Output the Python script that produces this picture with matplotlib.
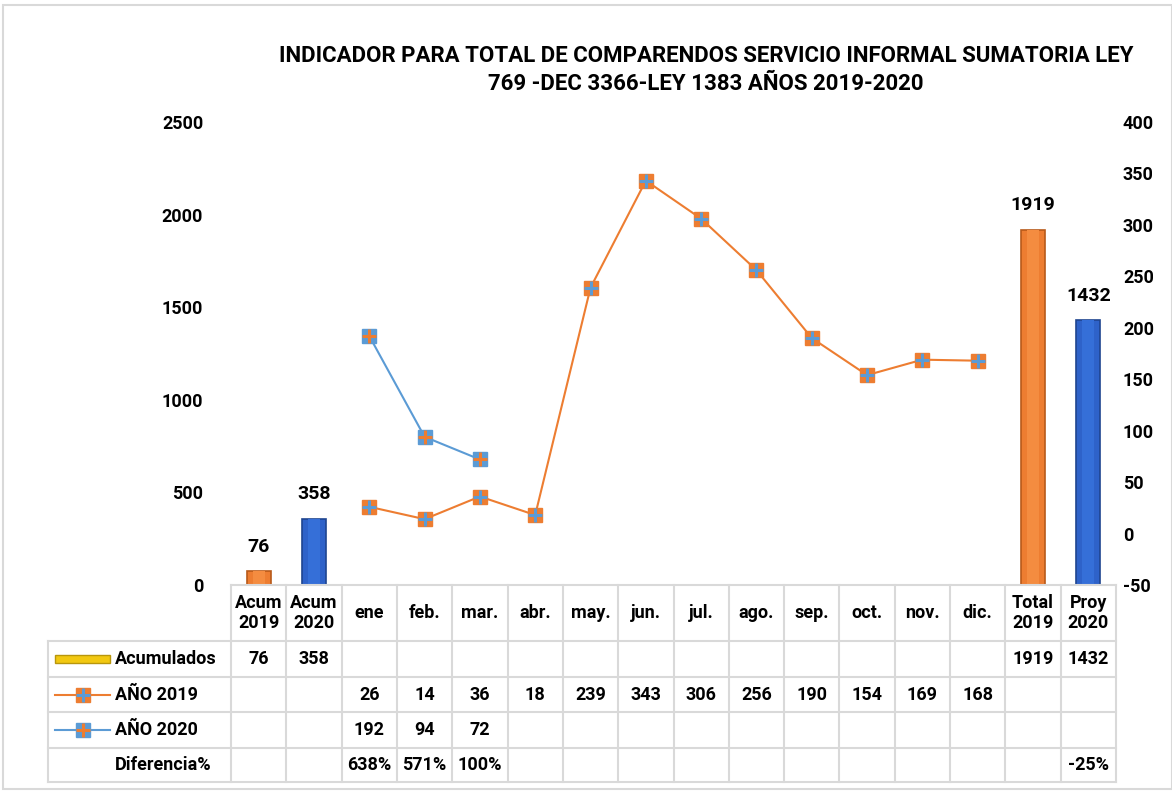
import numpy as np
import matplotlib
matplotlib.use("Agg")
from matplotlib import pyplot as plt
from matplotlib.patches import Rectangle

plt.rcParams['font.family'] = ['Roboto', 'DejaVu Sans']
plt.rcParams['font.weight'] = 'bold'
plt.rcParams['axes.unicode_minus'] = False

# data
categories = ['Acum\n2019', 'Acum\n2020', 'ene', 'feb.', 'mar.', 'abr.', 'may.', 'jun.',
              'jul.', 'ago.', 'sep.', 'oct.', 'nov.', 'dic.', 'Total\n2019', 'Proy\n2020']
bar_idx = [0, 1, 14, 15]
acumulados = [76, 358, 1919, 1432]
anio_2019 = [26, 14, 36, 18, 239, 343, 306, 256, 190, 154, 169, 168]
anio_2020 = [192, 94, 72]
diferencia = {2: '638%', 3: '571%', 4: '100%', 15: '-25%'}

title = 'INDICADOR PARA TOTAL DE COMPARENDOS SERVICIO INFORMAL SUMATORIA LEY\n769 -DEC 3366-LEY 1383 AÑOS 2019-2020'

ORANGE = '#ED7D31'
BLUE = '#5B9BD5'
DBLUE = '#2E62C9'
GRID = '#d9d9d9'

W, H = 1172, 791
fig = plt.figure(figsize=(W / 100, H / 100), dpi=100)

def fx(px):
    return px / W

def fy(py):
    return 1 - py / H

# outer frame
fig.patches.append(Rectangle((fx(3), fy(789)), fx(1172 - 3), (786 - 2) / H,
                             transform=fig.transFigure, fill=False, edgecolor=GRID, lw=1.5))

ax = fig.add_axes([fx(231), fy(585), fx(1116 - 231), 463 / H])
ax.set_xlim(-0.5, 15.5)
ax.set_ylim(0, 2500)
ax.set_yticks(np.arange(0, 2501, 500))
ax.set_xticks([])
for s in ax.spines.values():
    s.set_visible(False)
ax.tick_params(axis='y', length=0, labelsize=13, pad=20)

bar_colors = [ORANGE, DBLUE, ORANGE, DBLUE]
edge_colors = ['#B85A1A', '#1F4590', '#B85A1A', '#1F4590']
bars = ax.bar(bar_idx, acumulados, width=0.43, color=bar_colors, edgecolor=edge_colors, lw=1.2, zorder=2)
# lighter centre strip for the 3d look
light = ['#F48C40', '#356FD8', '#F48C40', '#356FD8']
ax.bar(bar_idx, acumulados, width=0.22, color=light, lw=0, zorder=3)
for b, v in zip(bars, acumulados):
    ax.annotate(str(v), (b.get_x() + b.get_width() / 2, v), xytext=(0, 11),
                textcoords='offset points', ha='center', va='bottom', fontsize=14, fontweight='bold')

ax2 = ax.twinx()
ax2.set_ylim(-50, 400)
ax2.set_yticks(np.arange(-50, 401, 50))
for s in ax2.spines.values():
    s.set_visible(False)
ax2.tick_params(axis='y', length=0, labelsize=13, pad=5)

x19 = np.arange(2, 2 + len(anio_2019))
x20 = np.arange(2, 2 + len(anio_2020))
ax2.plot(x19, anio_2019, color=ORANGE, lw=1.5, marker='s', ms=10, mfc=ORANGE, mec=ORANGE, zorder=4)
ax2.plot(x19, anio_2019, ls='none', marker='+', ms=10, mew=2.2, color=BLUE, zorder=5)
ax2.plot(x20, anio_2020, color=BLUE, lw=1.5, marker='s', ms=10, mfc=BLUE, mec=BLUE, zorder=4)
ax2.plot(x20, anio_2020, ls='none', marker='+', ms=10, mew=2.2, color=ORANGE, zorder=5)

fig.text(fx(706), fy(70), title, ha='center', va='center', fontsize=16, fontweight='bold',
         linespacing=1.35)

# data table below the chart
rows_y = [585, 641, 677, 712, 748, 782]
col_w = 55.3
x_left = -0.5 - (231 - 48) / col_w
tab = fig.add_axes([fx(48), fy(782), fx(1116 - 48), (782 - 585) / H])
tab.set_xlim(x_left, 15.5)
tab.set_ylim(782, 585)
tab.axis('off')

lk = dict(color=GRID, lw=1.5, clip_on=False)
tab.plot([-0.5, 15.5], [rows_y[0], rows_y[0]], **lk)
for y in rows_y[1:]:
    tab.plot([x_left, 15.5], [y, y], **lk)
for i in range(17):
    tab.plot([i - 0.5, i - 0.5], [rows_y[0], rows_y[-1]], **lk)
tab.plot([x_left, x_left], [rows_y[1], rows_y[-1]], **lk)

def mid(r):
    return (rows_y[r] + rows_y[r + 1]) / 2

fs = 13
for i, c in enumerate(categories):
    tab.text(i, mid(0), c, ha='center', va='center', fontsize=fs, fontweight='bold', linespacing=1.1)
for i, v in zip(bar_idx, acumulados):
    tab.text(i, mid(1), str(v), ha='center', va='center', fontsize=fs, fontweight='bold')
for i, v in zip(x19, anio_2019):
    tab.text(i, mid(2), str(v), ha='center', va='center', fontsize=fs, fontweight='bold')
for i, v in zip(x20, anio_2020):
    tab.text(i, mid(3), str(v), ha='center', va='center', fontsize=fs, fontweight='bold')
for i, v in diferencia.items():
    tab.text(i, mid(4), v, ha='center', va='center', fontsize=fs, fontweight='bold')

# row headers with legend keys
sw0 = x_left + (55 - 48) / col_w
sw1 = x_left + (110 - 48) / col_w
txt_x = x_left + (115 - 48) / col_w
tab.add_patch(Rectangle((sw0, mid(1) - 4), sw1 - sw0, 8, facecolor='#F2C811', edgecolor='#B8960C', lw=1))
tab.plot([sw0, sw1], [mid(2), mid(2)], color=ORANGE, lw=1.5)
tab.plot([(sw0 + sw1) / 2], [mid(2)], marker='s', ms=10, color=ORANGE)
tab.plot([(sw0 + sw1) / 2], [mid(2)], marker='+', ms=10, mew=2.2, color=BLUE)
tab.plot([sw0, sw1], [mid(3), mid(3)], color=BLUE, lw=1.5)
tab.plot([(sw0 + sw1) / 2], [mid(3)], marker='s', ms=10, color=BLUE)
tab.plot([(sw0 + sw1) / 2], [mid(3)], marker='+', ms=10, mew=2.2, color=ORANGE)
for r, name in zip([1, 2, 3, 4], ['Acumulados', 'AÑO 2019', 'AÑO 2020', 'Diferencia%']):
    tab.text(txt_x, mid(r), name, ha='left', va='center', fontsize=fs, fontweight='bold')

fig.savefig('out.png', dpi=100)
